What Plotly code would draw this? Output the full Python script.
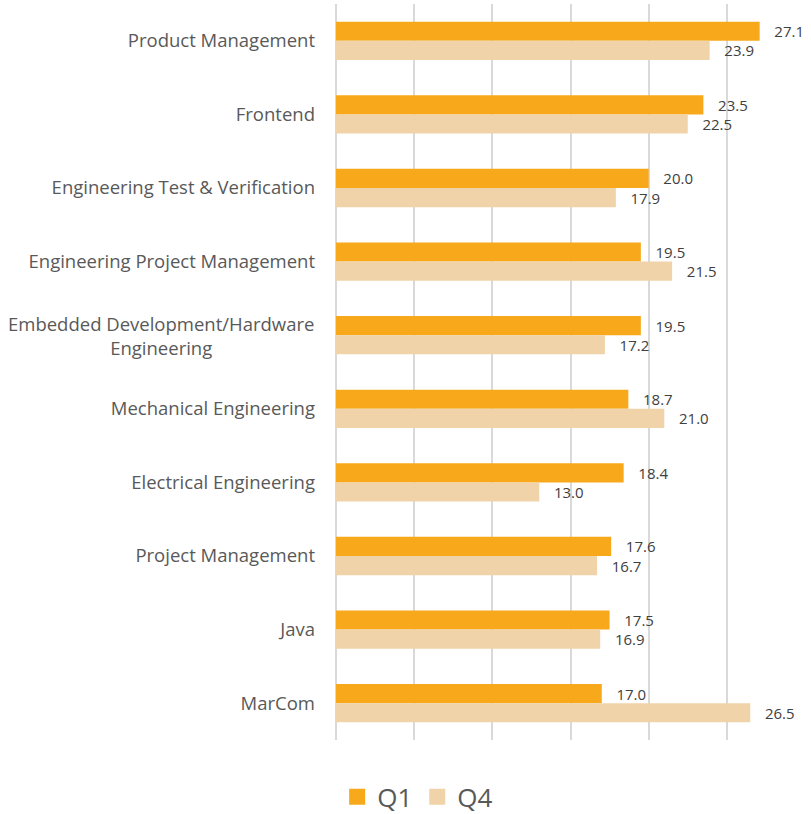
import plotly.graph_objects as go

categories = [
    "Product Management",
    "Frontend",
    "Engineering Test & Verification",
    "Engineering Project Management",
    "Embedded Development/Hardware<br>Engineering",
    "Mechanical Engineering",
    "Electrical Engineering",
    "Project Management",
    "Java",
    "MarCom",
]
q1_values = [27.1, 23.5, 20.0, 19.5, 19.5, 18.7, 18.4, 17.6, 17.5, 17.0]
q4_values = [23.9, 22.5, 17.9, 21.5, 17.2, 21.0, 13.0, 16.7, 16.9, 26.5]
series_names = ["Q1", "Q4"]

C_Q1 = "#F7A81B"
C_Q4 = "#F0D3A8"
TXT = "#595959"
LBL = "#404040"

fig = go.Figure()
for name, vals, col in [(series_names[0], q1_values, C_Q1), (series_names[1], q4_values, C_Q4)]:
    fig.add_trace(go.Bar(
        name=name, y=categories, x=vals, orientation="h",
        marker=dict(color=col, line=dict(width=0)),
        text=vals, texttemplate="\u00a0\u00a0\u00a0%{x:.1f}",
        textposition="outside", constraintext="none", cliponaxis=False,
        textfont=dict(family="Open Sans", size=15, color=LBL),
        showlegend=False, legendgroup=name,
    ))
# legend swatches (larger squares, as in the reference)
for name, col in [(series_names[0], C_Q1), (series_names[1], C_Q4)]:
    fig.add_trace(go.Scatter(
        name=name, x=[None], y=[None], mode="markers",
        marker=dict(symbol="square", size=16, color=col, line=dict(width=0)),
        showlegend=True, legendgroup=name, hoverinfo="skip",
    ))

# wrapped (centered) label for the two-line category
wrap_idx = 4
ticktext = [c if i != wrap_idx else "" for i, c in enumerate(categories)]
fig.add_annotation(
    x=0, xref="paper", xanchor="right", xshift=-20,
    y=categories[wrap_idx], yref="y", yanchor="middle",
    text=categories[wrap_idx], align="center", showarrow=False,
    font=dict(family="Open Sans", size=18.5, color=TXT),
)

fig.update_layout(
    width=811, height=814,
    margin=dict(l=336, r=6, t=4, b=74),
    plot_bgcolor="white", paper_bgcolor="white",
    barmode="group", bargap=0.48, bargroupgap=0,
    showlegend=True,
    legend=dict(orientation="h", xref="container", yref="container",
                x=0.515, xanchor="center", y=0.021, yanchor="middle",
                font=dict(family="Open Sans", size=26, color=TXT),
                tracegroupgap=0, itemsizing="trace"),
    xaxis=dict(range=[0, 30], dtick=5, showticklabels=False, showgrid=True,
               gridcolor="#D9D9D9", gridwidth=1.5, zeroline=True,
               zerolinecolor="#D9D9D9", zerolinewidth=1.5, fixedrange=True),
    yaxis=dict(autorange="reversed", type="category", categoryorder="array",
               categoryarray=categories, tickmode="array", tickvals=categories,
               ticktext=ticktext, ticks="", ticklabelstandoff=20,
               tickfont=dict(family="Open Sans", size=18.5, color=TXT),
               showgrid=False, zeroline=False, showline=False, automargin=False),
)

fig.write_html("out.html", config={"displayModeBar": False},
               post_script="document.body.style.margin='0';window.dispatchEvent(new Event('resize'));")
